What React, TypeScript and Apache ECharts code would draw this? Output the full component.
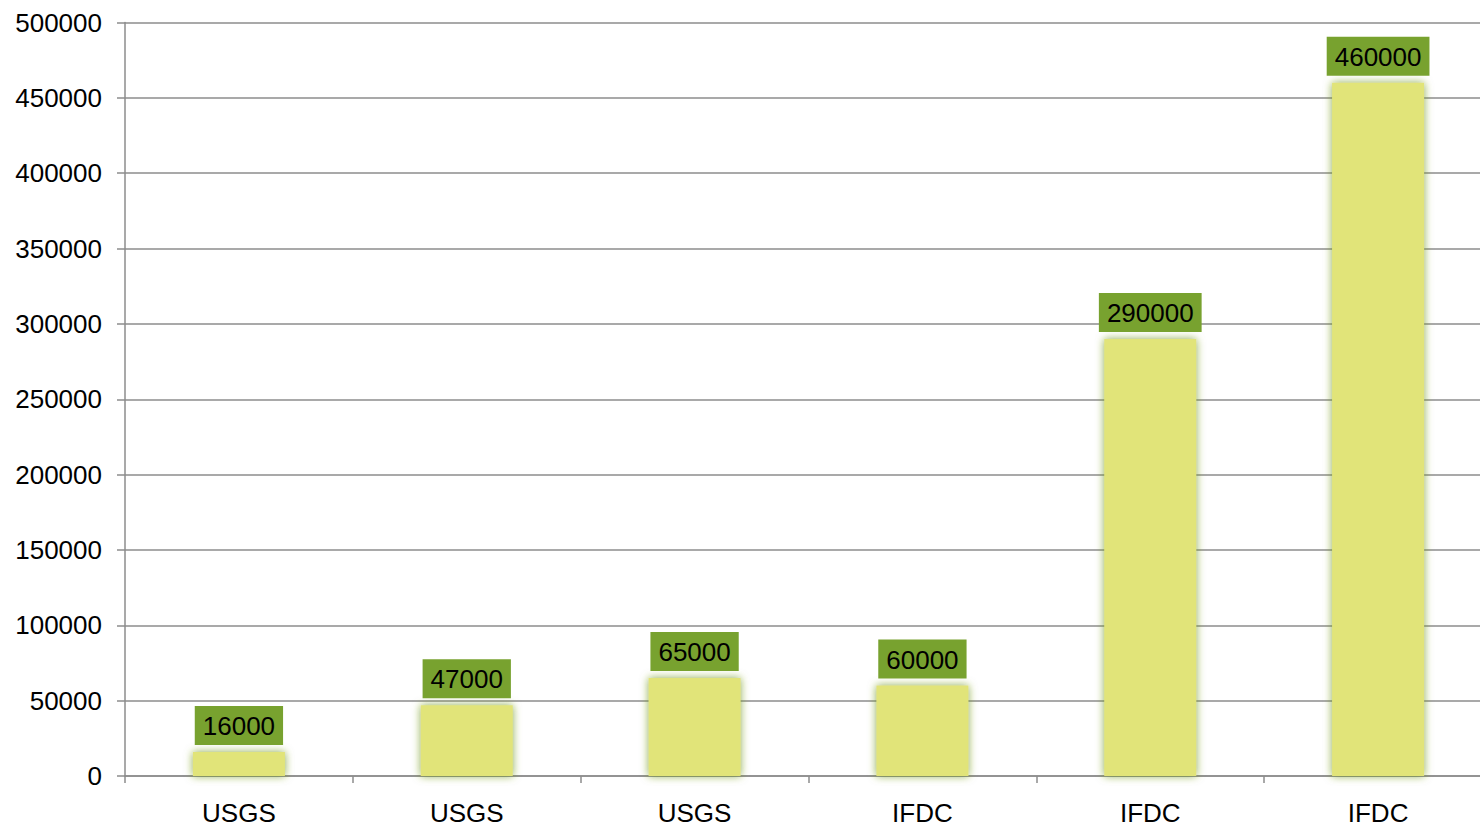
import React, { useEffect, useRef } from "react";
import * as echarts from "echarts";

const categories = ["USGS", "USGS", "USGS", "IFDC", "IFDC", "IFDC"];
const values = [16000, 47000, 65000, 60000, 290000, 460000];

export default function App() {
  const ref = useRef<HTMLDivElement>(null);
  useEffect(() => {
    document.body.style.margin = "0";
    document.body.style.overflow = "hidden";
    const chart = echarts.init(ref.current!, null, { renderer: "svg" });
    const font = "Liberation Sans, Arial, sans-serif";
    chart.setOption({
      animation: false,
      grid: {
        left: 125,
        right: -12,
        top: 22.5,
        bottom: 52,
        outerBoundsMode: "none",
        containLabel: false,
      },
      xAxis: {
        type: "category",
        data: categories,
        axisLine: { lineStyle: { color: "#8c8c8c", width: 1.5 } },
        axisTick: { show: true, length: 7, lineStyle: { color: "#8c8c8c", width: 1.5 } },
        axisLabel: {
          color: "#000",
          fontSize: 26,
          lineHeight: 22,
          fontFamily: font,
          margin: 26,
        },
      },
      yAxis: {
        type: "value",
        min: 0,
        max: 500000,
        interval: 50000,
        axisLine: { show: true, lineStyle: { color: "#8c8c8c", width: 1.5 } },
        axisTick: { show: true, length: 8, lineStyle: { color: "#8c8c8c", width: 1.5 } },
        splitLine: { lineStyle: { color: "#8c8c8c", width: 1.5 } },
        axisLabel: {
          color: "#000",
          fontSize: 26,
          fontFamily: font,
          margin: 23,
          formatter: (v: number) => String(v),
        },
      },
      series: [
        {
          type: "bar",
          data: values,
          barWidth: 92,
          itemStyle: {
            color: "#e1e479",
            shadowColor: "rgba(110,150,30,0.8)",
            shadowBlur: 8,
          },
          label: {
            show: true,
            position: "top",
            distance: 7,
            color: "#000",
            fontSize: 26,
            fontFamily: font,
            backgroundColor: "#78a22f",
            padding: [7, 8, 6, 8],
          },
        },
      ],
    });
    return () => chart.dispose();
  }, []);
  return <div ref={ref} style={{ width: 1480, height: 828 }} />;
}
